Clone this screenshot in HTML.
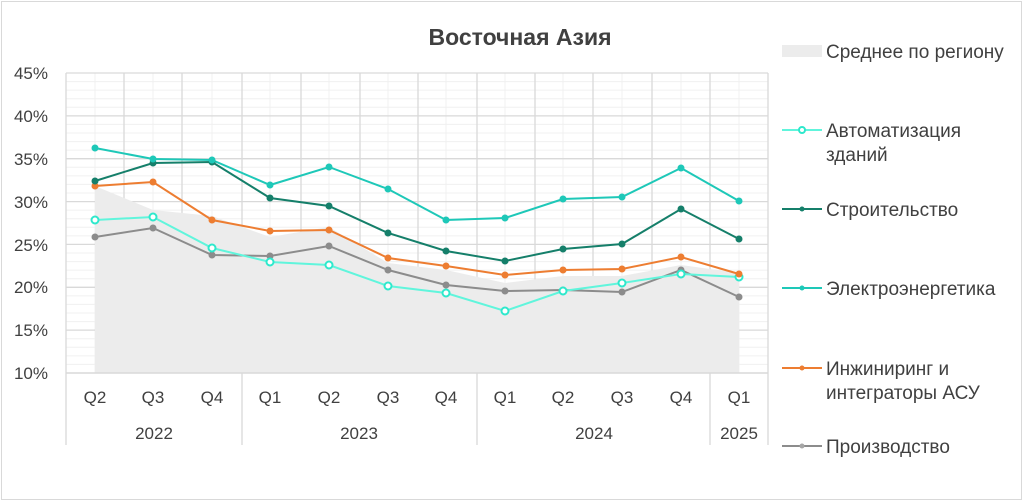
<!DOCTYPE html>
<html><head><meta charset="utf-8"><style>
html,body{margin:0;padding:0;background:#fff}
svg{display:block}
text{font-family:"Liberation Sans",sans-serif;fill:#404040}
</style></head><body>
<svg width="1024" height="502" viewBox="0 0 1024 502">
<rect x="1.5" y="1.5" width="1020" height="498" fill="#fff" stroke="#d9d9d9"/>
<text x="520" y="45" text-anchor="middle" font-size="23" font-weight="bold" fill="#404040">Восточная Азия</text>
<g stroke="#f0f0f0" stroke-width="1">
<line x1="66" x2="768" y1="81.6" y2="81.6"/><line x1="66" x2="768" y1="90.1" y2="90.1"/><line x1="66" x2="768" y1="98.7" y2="98.7"/><line x1="66" x2="768" y1="107.3" y2="107.3"/>
<line x1="66" x2="768" y1="124.4" y2="124.4"/><line x1="66" x2="768" y1="133" y2="133"/><line x1="66" x2="768" y1="141.6" y2="141.6"/><line x1="66" x2="768" y1="150.1" y2="150.1"/>
<line x1="66" x2="768" y1="167.3" y2="167.3"/><line x1="66" x2="768" y1="175.9" y2="175.9"/><line x1="66" x2="768" y1="184.4" y2="184.4"/><line x1="66" x2="768" y1="193" y2="193"/>
<line x1="66" x2="768" y1="210.1" y2="210.1"/><line x1="66" x2="768" y1="218.7" y2="218.7"/><line x1="66" x2="768" y1="227.3" y2="227.3"/><line x1="66" x2="768" y1="235.9" y2="235.9"/>
<line x1="66" x2="768" y1="253" y2="253"/><line x1="66" x2="768" y1="261.6" y2="261.6"/><line x1="66" x2="768" y1="270.1" y2="270.1"/><line x1="66" x2="768" y1="278.7" y2="278.7"/>
<line x1="66" x2="768" y1="295.9" y2="295.9"/><line x1="66" x2="768" y1="304.4" y2="304.4"/><line x1="66" x2="768" y1="313" y2="313"/><line x1="66" x2="768" y1="321.6" y2="321.6"/>
<line x1="66" x2="768" y1="338.7" y2="338.7"/><line x1="66" x2="768" y1="347.3" y2="347.3"/><line x1="66" x2="768" y1="355.9" y2="355.9"/><line x1="66" x2="768" y1="364.4" y2="364.4"/>
<line x1="95" x2="95" y1="73" y2="373"/><line x1="153" x2="153" y1="73" y2="373"/><line x1="212" x2="212" y1="73" y2="373"/><line x1="270" x2="270" y1="73" y2="373"/><line x1="329" x2="329" y1="73" y2="373"/><line x1="388" x2="388" y1="73" y2="373"/><line x1="446" x2="446" y1="73" y2="373"/><line x1="505" x2="505" y1="73" y2="373"/><line x1="563" x2="563" y1="73" y2="373"/><line x1="622" x2="622" y1="73" y2="373"/><line x1="681" x2="681" y1="73" y2="373"/><line x1="739" x2="739" y1="73" y2="373"/>
</g>
<g stroke="#d9d9d9" stroke-width="1.3">
<line x1="66" x2="768" y1="73" y2="73"/><line x1="66" x2="768" y1="115.9" y2="115.9"/><line x1="66" x2="768" y1="158.7" y2="158.7"/><line x1="66" x2="768" y1="201.6" y2="201.6"/><line x1="66" x2="768" y1="244.4" y2="244.4"/><line x1="66" x2="768" y1="287.3" y2="287.3"/><line x1="66" x2="768" y1="330.1" y2="330.1"/>
<line x1="66" x2="66" y1="73" y2="445"/><line x1="124" x2="124" y1="73" y2="373"/><line x1="182" x2="182" y1="73" y2="373"/><line x1="242" x2="242" y1="73" y2="445"/><line x1="301" x2="301" y1="73" y2="373"/><line x1="360" x2="360" y1="73" y2="373"/><line x1="418" x2="418" y1="73" y2="373"/><line x1="477" x2="477" y1="73" y2="445"/><line x1="535" x2="535" y1="73" y2="373"/><line x1="593" x2="593" y1="73" y2="373"/><line x1="652" x2="652" y1="73" y2="373"/><line x1="710" x2="710" y1="73" y2="445"/><line x1="768" x2="768" y1="73" y2="445"/>
</g>
<polygon fill="#ececec" points="95,373 95,186 153,210 212,216 270,237 329,227 388,263 446,270 505,283 563,276 622,276 681,265 739,273 739,373"/>
<line x1="66" x2="768" y1="373" y2="373" stroke="#d9d9d9" stroke-width="1.5"/>
<g font-size="17" text-anchor="end">
<text x="48" y="79">45%</text><text x="48" y="122">40%</text><text x="48" y="165">35%</text><text x="48" y="208">30%</text><text x="48" y="251">25%</text><text x="48" y="293">20%</text><text x="48" y="336">15%</text><text x="48" y="379">10%</text>
</g>
<g font-size="17" text-anchor="middle">
<text x="95" y="403">Q2</text><text x="153" y="403">Q3</text><text x="212" y="403">Q4</text><text x="270" y="403">Q1</text><text x="329" y="403">Q2</text><text x="388" y="403">Q3</text><text x="446" y="403">Q4</text><text x="505" y="403">Q1</text><text x="563" y="403">Q2</text><text x="622" y="403">Q3</text><text x="681" y="403">Q4</text><text x="739" y="403">Q1</text>
<text x="154" y="439">2022</text><text x="359" y="439">2023</text><text x="594" y="439">2024</text><text x="739" y="439">2025</text>
</g>
<g fill="none" stroke-width="2">
<polyline stroke="#8c8c8c" points="95,237 153,228 212,255 270,256 329,246 388,270 446,285 505,291 563,290 622,292 681,270 739,297"/>
<polyline stroke="#60f5dc" points="95,220 153,217 212,248 270,262 329,265 388,286 446,293 505,311 563,291 622,283 681,274 739,277"/>
<polyline stroke="#ed7d31" points="95,186 153,182 212,220 270,231 329,230 388,258 446,266 505,275 563,270 622,269 681,257 739,274"/>
<polyline stroke="#157f6a" points="95,181 153,163 212,162 270,198 329,206 388,233 446,251 505,261 563,249 622,244 681,209 739,239"/>
<polyline stroke="#1ec8b8" points="95,148 153,159 212,160 270,185 329,167 388,189 446,220 505,218 563,199 622,197 681,168 739,201"/>
</g>
<g fill="#8c8c8c"><circle cx="95" cy="237" r="3.5"/><circle cx="153" cy="228" r="3.5"/><circle cx="212" cy="255" r="3.5"/><circle cx="270" cy="256" r="3.5"/><circle cx="329" cy="246" r="3.5"/><circle cx="388" cy="270" r="3.5"/><circle cx="446" cy="285" r="3.5"/><circle cx="505" cy="291" r="3.5"/><circle cx="563" cy="290" r="3.5"/><circle cx="622" cy="292" r="3.5"/><circle cx="681" cy="270" r="3.5"/><circle cx="739" cy="297" r="3.5"/></g>
<g fill="#fff" stroke="#2ee8cc" stroke-width="2"><circle cx="95" cy="220" r="3.5"/><circle cx="153" cy="217" r="3.5"/><circle cx="212" cy="248" r="3.5"/><circle cx="270" cy="262" r="3.5"/><circle cx="329" cy="265" r="3.5"/><circle cx="388" cy="286" r="3.5"/><circle cx="446" cy="293" r="3.5"/><circle cx="505" cy="311" r="3.5"/><circle cx="563" cy="291" r="3.5"/><circle cx="622" cy="283" r="3.5"/><circle cx="681" cy="274" r="3.5"/><circle cx="739" cy="277" r="3.5"/></g>
<g fill="#ed7d31"><circle cx="95" cy="186" r="3.5"/><circle cx="153" cy="182" r="3.5"/><circle cx="212" cy="220" r="3.5"/><circle cx="270" cy="231" r="3.5"/><circle cx="329" cy="230" r="3.5"/><circle cx="388" cy="258" r="3.5"/><circle cx="446" cy="266" r="3.5"/><circle cx="505" cy="275" r="3.5"/><circle cx="563" cy="270" r="3.5"/><circle cx="622" cy="269" r="3.5"/><circle cx="681" cy="257" r="3.5"/><circle cx="739" cy="274" r="3.5"/></g>
<g fill="#157f6a"><circle cx="95" cy="181" r="3.5"/><circle cx="153" cy="163" r="3.5"/><circle cx="212" cy="162" r="3.5"/><circle cx="270" cy="198" r="3.5"/><circle cx="329" cy="206" r="3.5"/><circle cx="388" cy="233" r="3.5"/><circle cx="446" cy="251" r="3.5"/><circle cx="505" cy="261" r="3.5"/><circle cx="563" cy="249" r="3.5"/><circle cx="622" cy="244" r="3.5"/><circle cx="681" cy="209" r="3.5"/><circle cx="739" cy="239" r="3.5"/></g>
<g fill="#1ec8b8"><circle cx="95" cy="148" r="3.5"/><circle cx="153" cy="159" r="3.5"/><circle cx="212" cy="160" r="3.5"/><circle cx="270" cy="185" r="3.5"/><circle cx="329" cy="167" r="3.5"/><circle cx="388" cy="189" r="3.5"/><circle cx="446" cy="220" r="3.5"/><circle cx="505" cy="218" r="3.5"/><circle cx="563" cy="199" r="3.5"/><circle cx="622" cy="197" r="3.5"/><circle cx="681" cy="168" r="3.5"/><circle cx="739" cy="201" r="3.5"/></g>
<rect x="782" y="45" width="40" height="12" fill="#ececec"/>
<g font-size="19">
<text x="826" y="58">Среднее по региону</text>
<text x="826" y="137">Автоматизация</text><text x="826" y="161">зданий</text>
<text x="826" y="216">Строительство</text>
<text x="826" y="295">Электроэнергетика</text>
<text x="826" y="375">Инжиниринг и</text><text x="826" y="399">интеграторы АСУ</text>
<text x="826" y="453">Производство</text>
</g>
<g stroke-width="2">
<line x1="782" x2="822" y1="130" y2="130" stroke="#60f5dc"/><circle cx="802" cy="130" r="3" fill="#fff" stroke="#2ee8cc"/>
<line x1="782" x2="822" y1="209" y2="209" stroke="#157f6a"/><circle cx="802" cy="209" r="2.5" fill="#157f6a"/>
<line x1="782" x2="822" y1="288" y2="288" stroke="#1ec8b8"/><circle cx="802" cy="288" r="2.5" fill="#1ec8b8"/>
<line x1="782" x2="822" y1="368" y2="368" stroke="#ed7d31"/><circle cx="802" cy="368" r="2.5" fill="#ed7d31"/>
<line x1="782" x2="822" y1="446" y2="446" stroke="#8c8c8c"/><circle cx="802" cy="446" r="2.5" fill="#a6a6a6"/>
</g>
</svg>
</body></html>
